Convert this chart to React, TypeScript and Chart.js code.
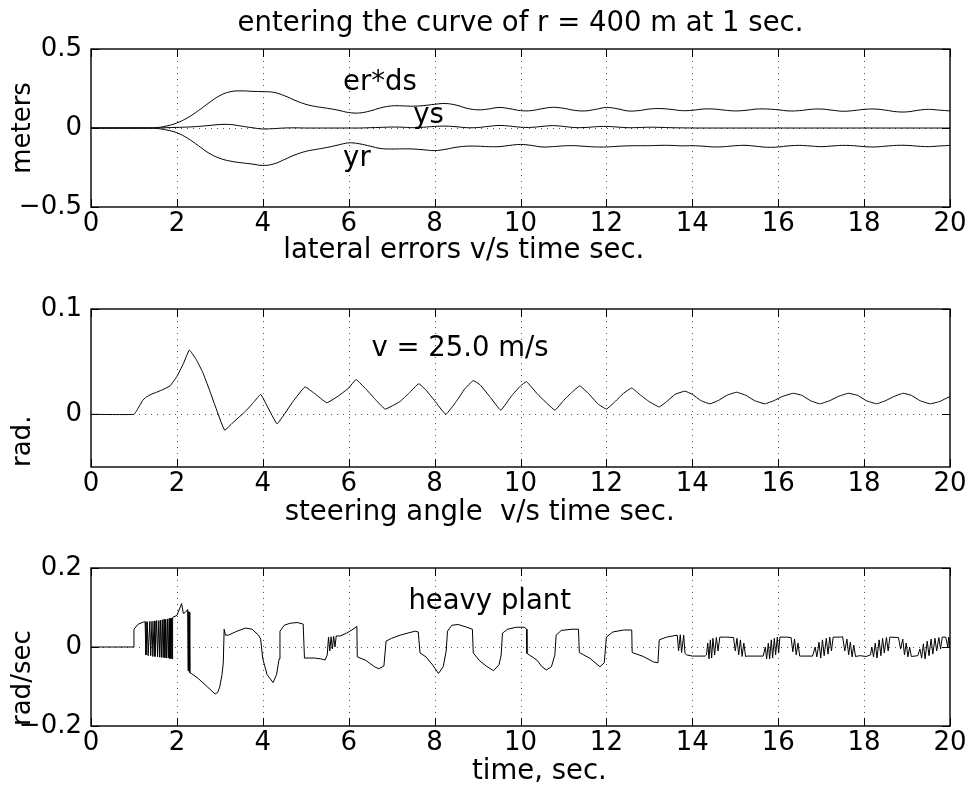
import React, { useEffect, useRef } from "react";
import { Chart, registerables } from "chart.js";

Chart.register(...registerables);

const FONT = "'DejaVu Sans', 'Liberation Sans', sans-serif";
const W = 974;
const H = 786;

// ---------- Panel 1: lateral errors (meters) ----------
const LAT_TIME = [
  0, 0.25, 0.5, 0.75, 1, 1.25, 1.5, 1.75, 2, 2.25, 2.5, 2.75, 3, 3.25, 3.5, 3.75,
  4, 4.25, 4.5, 4.75, 5, 5.25, 5.5, 5.75, 6, 6.25, 6.5, 6.75, 7, 7.25, 7.5, 7.75,
  8, 8.25, 8.5, 8.75, 9, 9.25, 9.5, 9.75, 10, 10.25, 10.5, 10.75, 11, 11.25, 11.5, 11.75,
  12, 12.25, 12.5, 12.75, 13, 13.25, 13.5, 13.75, 14, 14.25, 14.5, 14.75, 15, 15.25, 15.5, 15.75,
  16, 16.25, 16.5, 16.75, 17, 17.25, 17.5, 17.75, 18, 18.25, 18.5, 18.75, 19, 19.25, 19.5, 19.75, 20,
];
const ER_DS = [
  0, 0, 0, 0, 0, 0, 0.002, 0.012, 0.032, 0.065, 0.11, 0.16, 0.205, 0.23, 0.235, 0.232,
  0.23, 0.226, 0.205, 0.175, 0.15, 0.135, 0.125, 0.113, 0.098, 0.095, 0.108, 0.128, 0.14, 0.14, 0.138, 0.142,
  0.15, 0.155, 0.145, 0.125, 0.115, 0.12, 0.13, 0.122, 0.11, 0.11, 0.122, 0.131, 0.125, 0.112, 0.108, 0.118,
  0.13, 0.122, 0.108, 0.11, 0.12, 0.123, 0.118, 0.11, 0.112, 0.12, 0.12, 0.113, 0.108, 0.112, 0.12, 0.12,
  0.115, 0.108, 0.11, 0.118, 0.12, 0.113, 0.106, 0.11, 0.118, 0.12, 0.113, 0.103, 0.102, 0.112, 0.118, 0.113, 0.108,
];
const YS = [
  0, 0, 0, 0, 0, 0, 0, 0.002, 0.004, 0.006, 0.01, 0.016, 0.022, 0.022, 0.012, 0.002,
  -0.006, -0.004, 0, 0.001, 0, 0, 0, 0, 0, 0, 0.002, 0.004, 0.006, 0.005, 0.002, 0.005,
  0.01, 0.012, 0.008, 0.002, 0.003, 0.01, 0.016, 0.012, 0.005, 0.004, 0.01, 0.015, 0.01, 0.003, 0.003, 0.008,
  0.01, 0.006, 0.002, 0.003, 0.005, 0.004, 0.002, 0.001, 0, 0, 0, 0, 0, 0, 0, 0,
  0, 0, 0, 0, 0, 0, 0, 0, 0, 0, 0, 0, 0, 0, 0, 0, 0,
];
const YR = [
  0, 0, 0, 0, 0, 0, -0.002, -0.012, -0.03, -0.065, -0.112, -0.16, -0.192, -0.21, -0.22, -0.228,
  -0.237, -0.228, -0.2, -0.17, -0.148, -0.135, -0.123, -0.108, -0.094, -0.1, -0.115, -0.13, -0.133, -0.132, -0.133, -0.138,
  -0.143, -0.135, -0.122, -0.115, -0.115, -0.118, -0.118, -0.11, -0.104, -0.11, -0.12, -0.118, -0.113, -0.112, -0.116, -0.12,
  -0.12, -0.116, -0.113, -0.112, -0.112, -0.11, -0.11, -0.113, -0.112, -0.115, -0.12, -0.118, -0.112, -0.11, -0.116, -0.122,
  -0.12, -0.113, -0.11, -0.114, -0.118, -0.114, -0.11, -0.112, -0.118, -0.12, -0.115, -0.11, -0.11, -0.115, -0.118, -0.114, -0.11,
];
const LAT_TICKS = [-0.5, 0, 0.5];

// ---------- Panel 2: steering angle (rad.) ----------
const STEER: [number, number][] = [
  [0, 0], [1.0, 0], [1.1, 0.006], [1.2, 0.013], [1.27, 0.016], [1.4, 0.019], [1.53, 0.021], [1.7, 0.024],
  [1.84, 0.027], [2.0, 0.036], [2.15, 0.048], [2.29, 0.061], [2.45, 0.052], [2.6, 0.04], [2.75, 0.024],
  [2.9, 0.007], [3.11, -0.015], [3.3, -0.008], [3.6, 0.003], [3.8, 0.012], [3.95, 0.019], [4.1, 0.008],
  [4.33, -0.009], [4.5, 0.0], [4.7, 0.012], [4.98, 0.026], [5.2, 0.02], [5.49, 0.011], [5.78, 0.018],
  [6.0, 0.025], [6.17, 0.033], [6.4, 0.024], [6.6, 0.015], [6.85, 0.005], [7.19, 0.012], [7.4, 0.02],
  [7.63, 0.029], [7.8, 0.023], [8.0, 0.013], [8.26, 0.0], [8.5, 0.012], [8.7, 0.024], [8.9, 0.032],
  [9.06, 0.028], [9.3, 0.016], [9.54, 0.004], [9.8, 0.018], [10.0, 0.027], [10.14, 0.031], [10.4, 0.019],
  [10.8, 0.004], [11.0, 0.013], [11.2, 0.021], [11.38, 0.027], [11.6, 0.019], [11.8, 0.01], [12.0, 0.005],
  [12.2, 0.012], [12.4, 0.02], [12.59, 0.025], [12.8, 0.018], [13.0, 0.012], [13.23, 0.007], [13.4, 0.012],
  [13.6, 0.019], [13.83, 0.022], [14.0, 0.019], [14.2, 0.013], [14.41, 0.01], [14.6, 0.013], [14.8, 0.018],
  [15.03, 0.021], [15.25, 0.018], [15.45, 0.013], [15.69, 0.01], [15.9, 0.013], [16.1, 0.017], [16.35, 0.02],
  [16.55, 0.018], [16.75, 0.013], [16.97, 0.01], [17.2, 0.013], [17.4, 0.017], [17.63, 0.02], [17.85, 0.018],
  [18.05, 0.013], [18.29, 0.01], [18.5, 0.013], [18.7, 0.017], [18.91, 0.02], [19.1, 0.018], [19.3, 0.013],
  [19.53, 0.01], [19.75, 0.012], [20.0, 0.017],
];
const STEER_TICKS = [0, 0.1];

// ---------- Panel 3: heavy plant (rad/sec) ----------
const RATE: [number, number][] = [
  [0, 0], [0.99, 0], [1.0, 0.045], [1.1, 0.058], [1.22, 0.063],
  [1.26, 0.064], [1.28, -0.02], [1.31, 0.064], [1.33, -0.022], [1.37, 0.065], [1.39, -0.022], [1.42, 0.065],
  [1.44, -0.024], [1.47, 0.066], [1.49, -0.024], [1.53, 0.067], [1.55, -0.025], [1.58, 0.067], [1.6, -0.026],
  [1.62, 0.068], [1.64, -0.026], [1.66, 0.069], [1.68, -0.027], [1.7, 0.07], [1.72, -0.027], [1.74, 0.07],
  [1.76, -0.028], [1.78, 0.071], [1.8, -0.028], [1.82, 0.072], [1.83, -0.029], [1.85, 0.072], [1.86, -0.029],
  [1.88, 0.073], [1.89, -0.03], [1.9, 0.075],
  [2.0, 0.08], [2.11, 0.11], [2.15, 0.085], [2.2, 0.088], [2.25, 0.095], [2.26, -0.06], [2.27, 0.09],
  [2.28, -0.06], [2.29, 0.088], [2.3, -0.065], [2.35, -0.068], [2.5, -0.08], [2.7, -0.1], [2.89, -0.119],
  [2.95, -0.115], [3.0, -0.1], [3.05, -0.07], [3.08, -0.04], [3.1, 0.045], [3.13, 0.03], [3.2, 0.03],
  [3.4, 0.04], [3.6, 0.048], [3.75, 0.045], [3.9, 0.03], [3.95, 0.02], [4.0, -0.03], [4.1, -0.07],
  [4.24, -0.09], [4.32, -0.07], [4.38, -0.03], [4.4, 0.04], [4.5, 0.055], [4.63, 0.06], [4.8, 0.062],
  [4.94, 0.058], [4.97, -0.028], [5.2, -0.028], [5.35, -0.03], [5.45, -0.033], [5.5, -0.02], [5.53, 0.025],
  [5.56, -0.01], [5.59, 0.026], [5.62, -0.005], [5.65, 0.027], [5.68, 0.0], [5.71, 0.028], [5.8, 0.028],
  [5.95, 0.035], [6.1, 0.045], [6.19, 0.052], [6.2, -0.025], [6.4, -0.034], [6.6, -0.05], [6.7, -0.055],
  [6.82, -0.048], [6.87, 0.015], [7.0, 0.022], [7.2, 0.03], [7.4, 0.036], [7.55, 0.04], [7.62, 0.038],
  [7.66, -0.015], [7.8, -0.025], [7.95, -0.045], [8.09, -0.067], [8.2, -0.05], [8.27, -0.01], [8.3, 0.04],
  [8.4, 0.055], [8.55, 0.057], [8.75, 0.05], [8.88, 0.045], [8.9, -0.015], [9.05, -0.035], [9.2, -0.048],
  [9.37, -0.06], [9.5, -0.045], [9.55, -0.02], [9.58, 0.035], [9.7, 0.045], [9.9, 0.05], [10.1, 0.05],
  [10.14, 0.045], [10.15, -0.016], [10.38, -0.033], [10.5, -0.05], [10.6, -0.058], [10.72, -0.05],
  [10.8, -0.02], [10.83, 0.03], [10.95, 0.042], [11.2, 0.045], [11.35, 0.045], [11.37, -0.014],
  [11.62, -0.029], [11.85, -0.05], [11.95, -0.04], [12.0, 0.025], [12.15, 0.038], [12.4, 0.043],
  [12.59, 0.043], [12.6, -0.014], [12.86, -0.024], [13.1, -0.038], [13.2, -0.04], [13.23, 0.018],
  [13.4, 0.025], [13.55, 0.028], [13.65, 0.03], [13.68, -0.01], [13.72, 0.031], [13.75, -0.014], [13.8, 0.03],
  [13.83, -0.016], [13.87, -0.02], [14.0, -0.023], [14.3, -0.023],
  [14.33, -0.02], [14.36, 0.01], [14.39, -0.03], [14.42, 0.018], [14.45, -0.028], [14.48, 0.022],
  [14.52, -0.02], [14.56, 0.024], [14.6, -0.01], [14.64, 0.025], [14.8, 0.025], [14.96, 0.024], [15.0, -0.01],
  [15.04, 0.022], [15.08, -0.02], [15.12, 0.018], [15.16, -0.024], [15.2, 0.01], [15.24, -0.024],
  [15.28, -0.023], [15.65, -0.023], [15.7, 0.0], [15.73, -0.03], [15.77, 0.01], [15.8, -0.03], [15.84, 0.018],
  [15.87, -0.028], [15.91, 0.022], [15.94, -0.02], [15.98, 0.025], [16.01, -0.015], [16.04, 0.025],
  [16.2, 0.025], [16.3, 0.024], [16.34, -0.012], [16.38, 0.02], [16.42, -0.02], [16.46, 0.01], [16.5, -0.023],
  [16.8, -0.023], [16.86, 0.0], [16.9, -0.025], [16.95, 0.012], [16.99, -0.028], [17.03, 0.018],
  [17.07, -0.022], [17.12, 0.022], [17.16, -0.018], [17.2, 0.025], [17.24, -0.01], [17.28, 0.025],
  [17.45, 0.025], [17.5, 0.026], [17.55, -0.01], [17.6, 0.02], [17.64, -0.02], [17.68, 0.012], [17.72, -0.025],
  [17.76, 0.005], [17.8, -0.024], [17.9, -0.022], [18.05, -0.024], [18.15, -0.02], [18.18, 0.0],
  [18.22, -0.025], [18.26, 0.01], [18.3, -0.028], [18.35, 0.018], [18.39, -0.022], [18.43, 0.022],
  [18.47, -0.015], [18.52, 0.024], [18.56, -0.01], [18.6, 0.025], [18.8, 0.024], [18.85, -0.005], [18.9, 0.02],
  [18.94, -0.02], [18.98, 0.01], [19.02, -0.025], [19.06, 0.0], [19.1, -0.024], [19.25, -0.022],
  [19.3, -0.005], [19.34, -0.028], [19.38, 0.008], [19.42, -0.03], [19.47, 0.015], [19.51, -0.022],
  [19.56, 0.02], [19.6, -0.018], [19.65, 0.022], [19.69, -0.01], [19.74, 0.024], [19.78, -0.005],
  [19.82, 0.025], [19.9, 0.025], [19.95, 0.0], [19.97, 0.025], [20, 0.0],
];
const RATE_TICKS = [-0.2, 0, 0.2];

const TIME_TICK_STEP = 2;

type TextMark = { text: string; x: number; y: number; align: CanvasTextAlign };

const fmtTick = (v: number | string) => String(v).replace("-", "\u2212");

const framePlugin = {
  id: "matlabFrame",
  beforeDatasetsDraw(chart: any) {
    const { ctx, chartArea: a, scales } = chart;
    const xs = scales.x;
    const ys = scales.y;
    ctx.save();
    ctx.strokeStyle = "#555";
    ctx.lineWidth = 1;
    ctx.setLineDash([1, 5]);
    xs.ticks.forEach((t: any) => {
      if (t.value > xs.min && t.value < xs.max) {
        const px = Math.round(xs.getPixelForValue(t.value)) + 0.5;
        ctx.beginPath();
        ctx.moveTo(px, a.top);
        ctx.lineTo(px, a.bottom);
        ctx.stroke();
      }
    });
    ys.ticks.forEach((t: any) => {
      if (t.value > ys.min && t.value < ys.max) {
        const py = Math.round(ys.getPixelForValue(t.value)) + 0.5;
        ctx.beginPath();
        ctx.moveTo(a.left, py);
        ctx.lineTo(a.right, py);
        ctx.stroke();
      }
    });
    ctx.restore();
  },
  afterDatasetsDraw(chart: any) {
    const { ctx, chartArea: a, scales } = chart;
    const xs = scales.x;
    const ys = scales.y;
    const len = 8;
    ctx.save();
    ctx.setLineDash([]);
    ctx.strokeStyle = "#000";
    ctx.lineWidth = 1;
    xs.ticks.forEach((t: any) => {
      const px = Math.round(xs.getPixelForValue(t.value)) + 0.5;
      ctx.beginPath();
      ctx.moveTo(px, a.bottom);
      ctx.lineTo(px, a.bottom - len);
      ctx.moveTo(px, a.top);
      ctx.lineTo(px, a.top + len);
      ctx.stroke();
    });
    ys.ticks.forEach((t: any) => {
      const py = Math.round(ys.getPixelForValue(t.value)) + 0.5;
      ctx.beginPath();
      ctx.moveTo(a.left, py);
      ctx.lineTo(a.left + len, py);
      ctx.moveTo(a.right, py);
      ctx.lineTo(a.right - len, py);
      ctx.stroke();
    });
    ctx.lineWidth = 1.4;
    ctx.strokeRect(a.left, a.top, a.right - a.left, a.bottom - a.top);
    ctx.restore();
  },
};

function textPlugin(items: TextMark[]) {
  return {
    id: "textMarks",
    afterDraw(chart: any) {
      const { ctx, scales } = chart;
      ctx.save();
      ctx.fillStyle = "#000";
      ctx.font = `27.5px ${FONT}`;
      ctx.textBaseline = "alphabetic";
      items.forEach((it) => {
        ctx.textAlign = it.align;
        ctx.fillText(it.text, scales.x.getPixelForValue(it.x), scales.y.getPixelForValue(it.y));
      });
      ctx.restore();
    },
  };
}

type PanelCfg = {
  datasets: any[];
  yMin: number;
  yMax: number;
  yTicks: number[];
  yTitle: string;
  yTitleAlign: "start" | "center" | "end";
  padTop: number;
  padBottom: number;
  title?: string;
  marks: TextMark[];
  tension: number;
};

function buildConfig(p: PanelCfg): any {
  const tickFont = { family: FONT, size: 26 };
  return {
    type: "line",
    data: { datasets: p.datasets },
    options: {
      responsive: false,
      animation: false,
      devicePixelRatio: 1,
      events: [],
      layout: { padding: { top: p.padTop, left: 0, right: 24, bottom: p.padBottom } },
      elements: {
        point: { radius: 0 },
        line: { borderColor: "#000", borderWidth: 1, tension: p.tension },
      },
      plugins: {
        legend: { display: false },
        tooltip: { enabled: false },
        title: p.title
          ? {
              display: true,
              text: p.title,
              fullSize: false,
              color: "#000",
              font: { family: FONT, size: 27.5, weight: "normal" },
              padding: { top: 7, bottom: 9 },
            }
          : { display: false },
      },
      scales: {
        x: {
          type: "linear",
          min: 0,
          max: 20,
          ticks: {
            stepSize: TIME_TICK_STEP,
            color: "#000",
            font: tickFont,
            padding: 2,
            maxRotation: 0,
            autoSkip: false,
          },
          grid: { display: false, drawTicks: false },
          border: { display: false },
          afterFit: (s: any) => {
            s.height = 40;
          },
        },
        y: {
          type: "linear",
          min: p.yMin,
          max: p.yMax,
          afterBuildTicks: (s: any) => {
            s.ticks = p.yTicks.map((v) => ({ value: v }));
          },
          ticks: {
            color: "#000",
            font: tickFont,
            padding: 9,
            callback: (v: any) => fmtTick(v),
          },
          grid: { display: false, drawTicks: false },
          border: { display: false },
          title: {
            display: true,
            text: p.yTitle,
            align: p.yTitleAlign,
            color: "#000",
            font: { family: FONT, size: 26 },
            padding: { top: 8, bottom: 0 },
          },
          afterFit: (s: any) => {
            s.width = 91;
          },
        },
      },
    },
    plugins: [framePlugin, textPlugin(p.marks)],
  };
}

const line = (pts: [number, number][], label: string) => ({
  label,
  data: pts.map(([x, y]) => ({ x, y })),
  borderColor: "#000",
  borderWidth: 1,
  pointRadius: 0,
  fill: false,
});

const zip = (xs: number[], ys: number[]): [number, number][] => xs.map((x, i) => [x, ys[i]]);

const PANELS: PanelCfg[] = [
  {
    datasets: [line(zip(LAT_TIME, ER_DS), "er*ds"), line(zip(LAT_TIME, YS), "ys"), line(zip(LAT_TIME, YR), "yr")],
    yMin: -0.5,
    yMax: 0.5,
    yTicks: LAT_TICKS,
    yTitle: "meters",
    yTitleAlign: "center",
    padTop: 0,
    padBottom: 539,
    title: "entering the curve of r = 400 m at 1 sec.",
    tension: 0.4,
    marks: [
      { text: "er*ds", x: 5.87, y: 0.24, align: "left" },
      { text: "ys", x: 7.5, y: 0.032, align: "left" },
      { text: "yr", x: 5.87, y: -0.239, align: "left" },
      { text: "lateral errors v/s time sec.", x: 8.68, y: -0.823, align: "center" },
    ],
  },
  {
    datasets: [line(STEER, "steering angle")],
    yMin: -0.05,
    yMax: 0.1,
    yTicks: STEER_TICKS,
    yTitle: "rad.",
    yTitleAlign: "start",
    padTop: 309,
    padBottom: 279,
    tension: 0.1,
    marks: [
      { text: "v = 25.0 m/s", x: 6.53, y: 0.0552, align: "left" },
      { text: "steering angle  v/s time sec.", x: 9.05, y: -0.1003, align: "center" },
    ],
  },
  {
    datasets: [line(RATE, "heavy plant")],
    yMin: -0.2,
    yMax: 0.2,
    yTicks: RATE_TICKS,
    yTitle: "rad/sec",
    yTitleAlign: "start",
    padTop: 568,
    padBottom: 20,
    tension: 0,
    marks: [
      { text: "heavy plant", x: 7.39, y: 0.0954, align: "left" },
      { text: "time, sec.", x: 10.44, y: -0.335, align: "center" },
    ],
  },
];

function Panel({ cfg }: { cfg: PanelCfg }) {
  const ref = useRef<HTMLCanvasElement | null>(null);
  useEffect(() => {
    if (!ref.current) return;
    const chart = new Chart(ref.current, buildConfig(cfg));
    return () => chart.destroy();
  }, [cfg]);
  return (
    <canvas
      ref={ref}
      width={W}
      height={H}
      style={{ position: "absolute", left: 0, top: 0, width: W, height: H }}
    />
  );
}

export default function App() {
  return (
    <div
      style={{
        position: "fixed",
        left: 0,
        top: 0,
        width: W,
        height: H,
        background: "#fff",
        overflow: "hidden",
      }}
    >
      {PANELS.map((p, i) => (
        <Panel key={i} cfg={p} />
      ))}
    </div>
  );
}
